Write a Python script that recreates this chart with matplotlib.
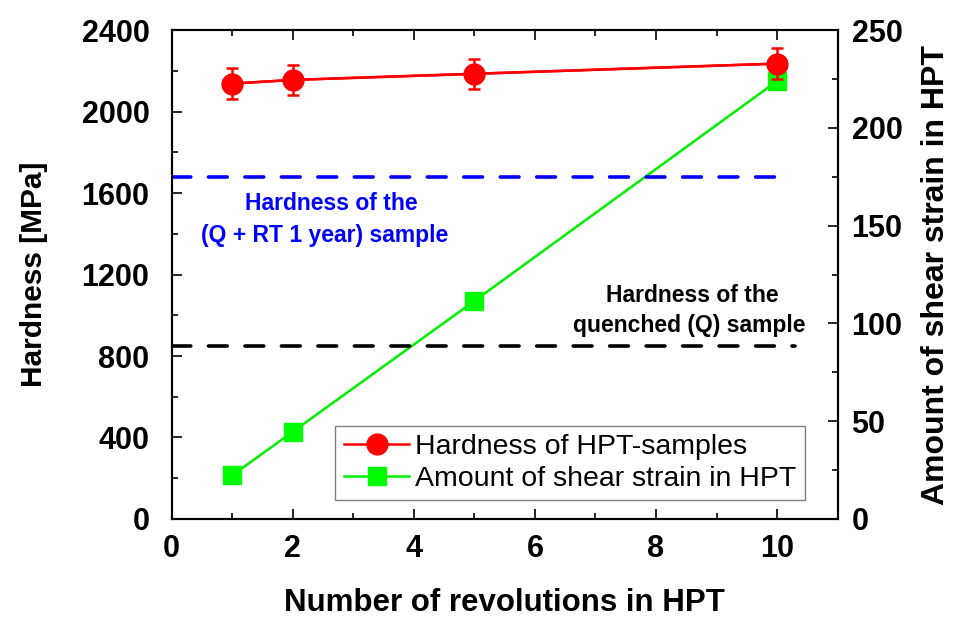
import matplotlib.pyplot as plt
from matplotlib.ticker import MultipleLocator

plt.rcParams['font.family'] = ['Liberation Sans', 'DejaVu Sans']

# HPT revolutions and measured values
revolutions = [1, 2, 5, 10]
hardness = [2138, 2156, 2186, 2236]
hardness_err = [78, 75, 75, 76]
shear_strain = [22.3, 44.6, 111.5, 224]

# reference hardness levels
hardness_q_rt = 1680
hardness_q = 850

fig = plt.figure(figsize=(9.54, 6.17), dpi=100)
ax = fig.add_axes([0.180, 0.159, 0.698, 0.792])
ax2 = ax.twinx()

# reference lines
ax.plot([0, 10.15], [hardness_q_rt] * 2, color='#0000ff', lw=2.6,
        dashes=(5.2, 4.9), dash_capstyle='round', zorder=1)
ax.plot([0, 10.3], [hardness_q] * 2, color='black', lw=2.6,
        dashes=(5.2, 4.9), dash_capstyle='round', zorder=1)

ax.text(2.63, 1551, 'Hardness of the', color='#0000ff',
        fontsize=16.5, fontweight='bold', ha='center', va='center')
ax.text(2.53, 1394, '(Q + RT 1 year) sample', color='#0000ff',
        fontsize=16.5, fontweight='bold', ha='center', va='center')
ax.text(8.6, 1099, 'Hardness of the', color='black',
        fontsize=16.5, fontweight='bold', ha='center', va='center')
ax.text(8.55, 952, 'quenched (Q) sample', color='black',
        fontsize=16.5, fontweight='bold', ha='center', va='center')

# shear strain on the right axis
l2, = ax2.plot(revolutions, shear_strain, color='#00ee00', lw=1.8,
               marker='s', markersize=12.5, markerfacecolor='#00ff00',
               markeredgecolor='#00ff00', zorder=2)

# hardness on the left axis
ax.set_zorder(ax2.get_zorder() + 1)
ax.patch.set_visible(False)
ax.errorbar(revolutions, hardness, yerr=hardness_err, color='red', lw=1.8,
            elinewidth=1.8, capsize=4, capthick=1.8, zorder=3)
l1, = ax.plot(revolutions, hardness, color='red', lw=1.8, marker='o',
              markersize=15, zorder=4)

ax.set_xlim(0, 11)
ax.set_ylim(0, 2400)
ax2.set_ylim(0, 250)

ax.xaxis.set_major_locator(MultipleLocator(2))
ax.xaxis.set_minor_locator(MultipleLocator(1))
ax.yaxis.set_major_locator(MultipleLocator(400))
ax.yaxis.set_minor_locator(MultipleLocator(200))
ax2.yaxis.set_major_locator(MultipleLocator(50))
ax2.yaxis.set_minor_locator(MultipleLocator(25))

ax.tick_params(axis='x', which='both', direction='in', top=True)
ax.tick_params(axis='y', which='both', direction='in')
ax2.tick_params(axis='y', which='both', direction='in')
ax.tick_params(which='major', length=7, width=1.2, labelsize=22)
ax.tick_params(which='minor', length=4, width=1.2)
ax.tick_params(axis='x', pad=11)
ax.tick_params(axis='y', pad=16)
ax2.tick_params(which='major', length=7, width=1.2, labelsize=22, pad=10)
ax2.tick_params(which='minor', length=4, width=1.2)
for a in (ax, ax2):
    for lab in a.get_xticklabels() + a.get_yticklabels():
        lab.set_fontweight('bold')
    for s in a.spines.values():
        s.set_linewidth(1.5)

ax.set_xlabel('Number of revolutions in HPT', fontsize=22.5, fontweight='bold',
              labelpad=17)
ax.set_ylabel('Hardness [MPa]', fontsize=21.5, fontweight='bold', labelpad=24)
ax2.set_ylabel('Amount of shear strain in HPT', fontsize=23,
               fontweight='bold', labelpad=13)

leg = ax.legend([l1, l2], ['Hardness of HPT-samples',
                           'Amount of shear strain in HPT'],
                loc='lower right', bbox_to_anchor=(0.951, 0.038),
                fontsize=20.5, fancybox=False, framealpha=1,
                edgecolor='#808080', handlelength=2.3, handletextpad=0.2,
                borderpad=0.3, labelspacing=0.2, borderaxespad=0)
leg.get_frame().set_linewidth(1.0)

fig.savefig('out.png', dpi=100)
